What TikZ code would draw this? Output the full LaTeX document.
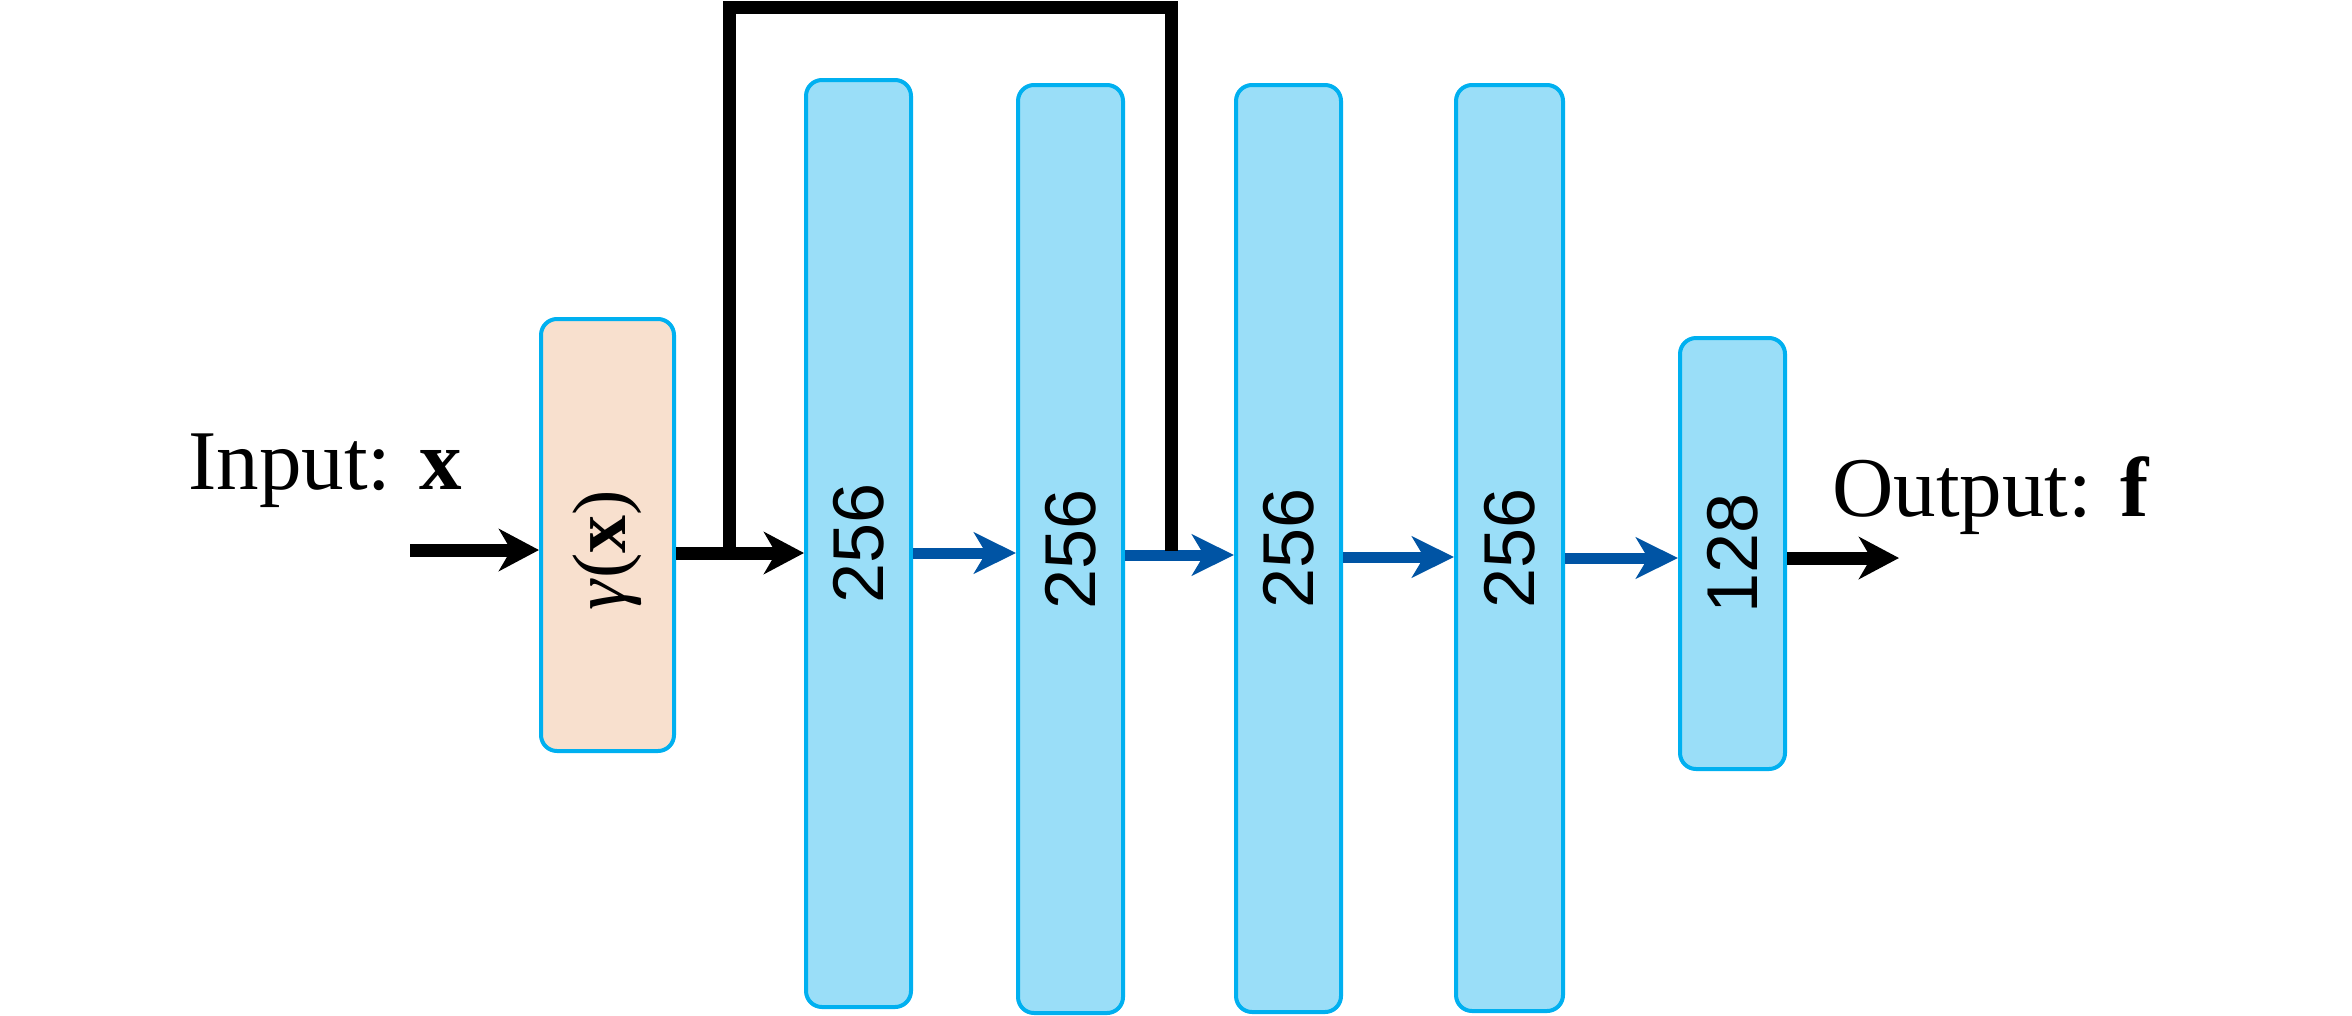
\documentclass[tikz,border=0pt]{standalone}
\usepackage{fontspec}
\setmainfont{Liberation Serif}
\setsansfont{Liberation Sans}
\usetikzlibrary{arrows.meta}
\definecolor{boxfill}{RGB}{154,222,248}
\definecolor{boxline}{RGB}{0,176,240}
\definecolor{encfill}{RGB}{248,224,206}
\definecolor{arrowblue}{RGB}{0,84,164}
\begin{document}
\begin{tikzpicture}[x=1pt,y=-1pt,
  layer/.style={draw=boxline, line width=4pt, rounded corners=16pt, fill=boxfill,
    inner sep=0pt, outer sep=2pt, font=\sffamily\fontsize{72}{72}\selectfont},
  enc/.style={layer, fill=encfill, font=\rmfamily\fontsize{76}{76}\selectfont},
  blackarrow/.style={line width=13pt, -{Stealth[length=40pt,width=42pt,inset=12pt]}},
  bluearrow/.style={draw=arrowblue, line width=11pt, -{Stealth[length=42pt,width=41pt,inset=12pt]}},
  skipline/.style={line width=13pt, line join=miter},
  lbl/.style={inner sep=0pt, anchor=base west, font=\rmfamily\fontsize{85}{85}\selectfont}]
\useasboundingbox (0,0) rectangle (2352,1015);
% nodes
\node[enc, minimum width=133pt, minimum height=432pt] (g) at (607.5,535)
  {\rotatebox{90}{\textit{γ}(\textbf{x})\hspace*{30pt}}};
\node[layer, minimum width=105pt, minimum height=927pt] (b1) at (858.5,543.5) {\rotatebox{90}{256}};
\node[layer, minimum width=105pt, minimum height=928pt] (b2) at (1070.5,549) {\rotatebox{90}{256}};
\node[layer, minimum width=105pt, minimum height=927pt] (b3) at (1288.5,548.5) {\rotatebox{90}{256}};
\node[layer, minimum width=107pt, minimum height=926pt] (b4) at (1509.5,548) {\rotatebox{90}{256}};
\node[layer, minimum width=105pt, minimum height=431pt] (b5) at (1732.5,553.5) {\rotatebox{90}{128}};
\node[lbl] (inp) at (188,489) {Input: \textbf{x}};
\node[lbl] (outp) at (1832,516) {Output: \textbf{f}};
% free ends and skip corners
\coordinate (in) at (410,550);
\coordinate (out) at (1899,558);
\coordinate (sa) at (729,553);
\coordinate (sb) at (1171,551);
\coordinate (st) at (950,7);
% connectors
\draw[blackarrow] (in) -- (in -| g.west);
\draw[blackarrow] (g.east |- sa) -- (b1.west |- sa);
\draw[bluearrow] (b1.east |- sa) -- (b2.west |- sa);
\draw[bluearrow] (b2.east |- 0,555) -- (b3.west |- 0,555);
\draw[bluearrow] (b3.east |- 0,557) -- (b4.west |- 0,557);
\draw[bluearrow] (b4.east |- 0,558) -- (b5.west |- 0,558);
\draw[blackarrow] (b5.east |- out) -- (out);
\draw[skipline] (sa) |- (st) -| (sb);
\end{tikzpicture}
\end{document}
